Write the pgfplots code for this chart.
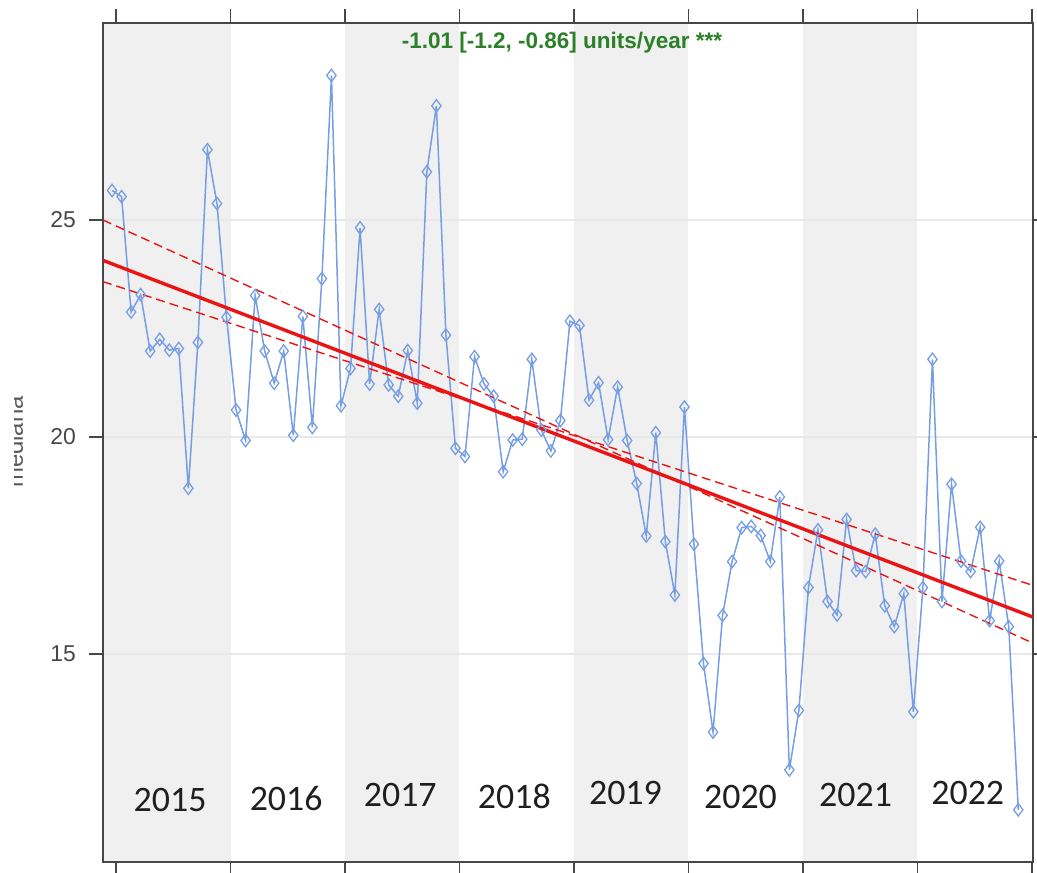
\documentclass[border=0pt]{standalone}
\usepackage{fontspec}
\setmainfont{Liberation Sans}
\newfontfamily\calibri{Carlito}
\usepackage{pgfplots}
\usepackage{pgfplotstable}
\pgfplotsset{compat=1.18}
\usetikzlibrary{calc}

\definecolor{lineblue}{RGB}{118,158,228}
\definecolor{bandgray}{RGB}{240,240,240}
\definecolor{annot}{RGB}{44,128,40}
\definecolor{trendred}{RGB}{235,20,20}

% monthly medians, i = month index from Jan 2015
\pgfplotstableread{
i v
0 25.68
1 25.54
2 22.88
3 23.28
4 21.98
5 22.25
6 22.00
7 22.04
8 18.82
9 22.18
10 26.62
11 25.38
12 22.76
13 20.62
14 19.92
15 23.26
16 21.98
17 21.24
18 21.98
19 20.04
20 22.78
21 20.22
22 23.65
23 28.33
24 20.72
25 21.58
26 24.82
27 21.22
28 22.94
29 21.20
30 20.94
31 21.99
32 20.78
33 26.11
34 27.63
35 22.35
36 19.74
37 19.55
38 21.85
39 21.22
40 20.94
41 19.20
42 19.93
43 19.95
44 21.79
45 20.16
46 19.68
47 20.38
48 22.67
49 22.57
50 20.85
51 21.25
52 19.94
53 21.15
54 19.92
55 18.93
56 17.72
57 20.10
58 17.59
59 16.36
60 20.69
61 17.53
62 14.78
63 13.20
64 15.89
65 17.13
66 17.91
67 17.94
68 17.73
69 17.13
70 18.62
71 12.33
72 13.70
73 16.53
74 17.86
75 16.21
76 15.90
77 18.10
78 16.92
79 16.90
80 17.76
81 16.11
82 15.63
83 16.39
84 13.67
85 16.53
86 21.79
87 16.21
88 18.91
89 17.14
90 16.90
91 17.92
92 15.77
93 17.14
94 15.63
95 11.41
}\medians

\begin{document}
\begin{tikzpicture}[yearlbl/.style={font=\calibri\fontsize{18}{20}\selectfont, text=black!88}]
\begin{axis}[
    set layers=standard,
    scale only axis,
    width=465bp, height=419.5bp,
    xmin=2014.886, xmax=2023.01,
    ymin=10.207, ymax=29.54,
    xtick={2015,2016,...,2023},
    xticklabels={},
    ytick={15,20,25},
    tick align=outside,
    xtick pos=both, ytick pos=both,
    yticklabel pos=left,
    major tick length=7bp,
    tick style={draw=black!72, line width=0.8bp},
    axis line style={draw=black!72, line width=1bp},
    ymajorgrids,
    grid style={draw=black!9, line width=0.7bp},
    /pgf/number format/assume math mode=true,
    yticklabel style={font=\fontsize{11.5}{13}\selectfont, text=black!72, xshift=-3bp},
]
\coordinate (sw) at (rel axis cs:0,0);

\begin{pgfonlayer}{axis background}
\fill[bandgray] (axis cs:2014.886,10.207) rectangle (axis cs:2016,29.54);
\fill[bandgray] (axis cs:2017,10.207) rectangle (axis cs:2018,29.54);
\fill[bandgray] (axis cs:2019,10.207) rectangle (axis cs:2020,29.54);
\fill[bandgray] (axis cs:2021,10.207) rectangle (axis cs:2022,29.54);
\end{pgfonlayer}

\addplot[color=lineblue, line width=0.75bp, mark=diamond, mark size=3.1bp,
    mark options={solid, line width=0.65bp}]
    table[x expr=2014.965+\thisrow{i}/12, y=v] {\medians};

% trend and its bounds
\addplot[color=trendred, line width=1.7bp, no marks] coordinates {(2014.886,24.07) (2023.01,15.85)};
\addplot[color=trendred, line width=0.7bp, dash pattern=on 4.5bp off 2.5bp, no marks] coordinates {(2014.886,25.00) (2023.01,15.25)};
\addplot[color=trendred, line width=0.7bp, dash pattern=on 4.5bp off 2.5bp, no marks] coordinates {(2014.886,23.58) (2023.01,16.58)};

\node[font=\bfseries\fontsize{11.3}{13}\selectfont, text=annot] at (rel axis cs:0.4935,1) [yshift=-10bp] {-1.01 [-1.2, -0.86] units/year ***};

\node[yearlbl] at (axis cs:2015.472,11.64) {2015};
\node[yearlbl] at (axis cs:2016.486,11.68) {2016};
\node[yearlbl] at (axis cs:2017.483,11.75) {2017};
\node[yearlbl] at (axis cs:2018.479,11.71) {2018};
\node[yearlbl] at (axis cs:2019.450,11.80) {2019};
\node[yearlbl] at (axis cs:2020.455,11.71) {2020};
\node[yearlbl] at (axis cs:2021.460,11.75) {2021};
\node[yearlbl] at (axis cs:2022.440,11.80) {2022};
\end{axis}

% y label, cut at the left edge as in the screenshot
\begin{scope}[shift={($(sw)+(-51.5bp,431bp)$)}, x=0.5bp, y=-0.5bp]
\clip (15,250) rectangle (40,650);
\node[rotate=90, anchor=base, text=black!65, font=\fontsize{12}{14}\selectfont] at (23,442) {mediana};
\end{scope}

\pgfresetboundingbox
\path[use as bounding box] ($(sw)+(-51.5bp,-5.5bp)$) rectangle ++(518.5bp,436.5bp);
\end{tikzpicture}
\end{document}
